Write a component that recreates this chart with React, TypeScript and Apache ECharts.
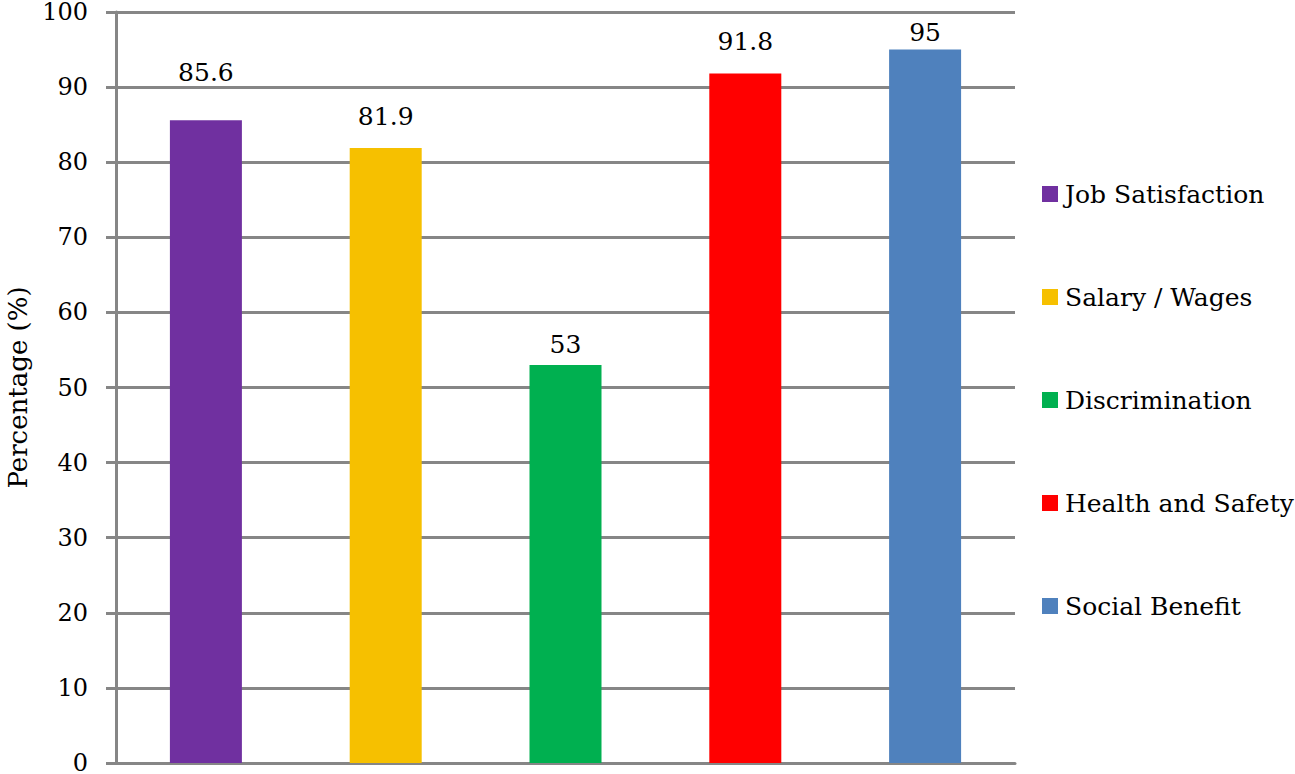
import React, { useEffect, useRef } from "react";
import * as echarts from "echarts";

const categories = ["Job Satisfaction", "Salary / Wages", "Discrimination", "Health and Safety", "Social Benefit"];
const values = [85.6, 81.9, 53, 91.8, 95];
const yTicks = [0, 10, 20, 30, 40, 50, 60, 70, 80, 90, 100];

// styling
const colors = ["#7030A0", "#F6C000", "#00B050", "#FF0000", "#4F81BD"];
const labelDistances = [35, 19, 8, 20, 5];

export default function App() {
  const ref = useRef<HTMLDivElement>(null);
  useEffect(() => {
    if (!ref.current) return;
    const chart = echarts.init(ref.current, null, { renderer: "svg" });
    const font = "DejaVu Serif";
    const series = categories.map((name, i) => ({
      name,
      type: "bar",
      stack: "all",
      barWidth: 72,
      data: categories.map((_, j) => (j === i ? values[i] : "-")),
      itemStyle: { color: colors[i] },
      label: {
        show: true,
        position: "top",
        distance: labelDistances[i],
        color: "#000",
        fontFamily: font,
        fontSize: 25,
      },
    }));
    chart.setOption({
      animation: false,
      grid: { left: 116, right: 280, top: 12, bottom: 11, containLabel: false, outerBoundsMode: "none" },
      legend: {
        orient: "vertical",
        left: 1042,
        top: 179,
        padding: 0,
        itemWidth: 16,
        itemHeight: 16,
        itemGap: 73,
        icon: "rect",
        textStyle: { fontFamily: font, fontSize: 25, color: "#000", lineHeight: 30, padding: [0, 0, 0, 2] },
        data: categories,
      },
      xAxis: {
        type: "category",
        data: categories,
        axisLine: { show: true, lineStyle: { color: "#868686", width: 3 } },
        axisTick: { show: false },
        axisLabel: { show: false },
      },
      yAxis: {
        type: "value",
        min: yTicks[0],
        max: yTicks[yTicks.length - 1],
        interval: 10,
        name: "Percentage (%)",
        nameLocation: "middle",
        nameGap: 83,
        nameTextStyle: { fontFamily: font, fontSize: 26, color: "#000" },
        axisLine: { show: true, lineStyle: { color: "#868686", width: 3 } },
        axisTick: { show: true, length: 10, lineStyle: { color: "#868686", width: 3 } },
        axisLabel: { fontFamily: font, fontSize: 24, color: "#000", margin: 28 },
        splitLine: { show: true, lineStyle: { color: "#868686", width: 3 } },
      },
      series,
    });
    return () => chart.dispose();
  }, []);
  return <div ref={ref} style={{ position: "fixed", left: 0, top: 0, width: 1295, height: 774, background: "#fff" }} />;
}
